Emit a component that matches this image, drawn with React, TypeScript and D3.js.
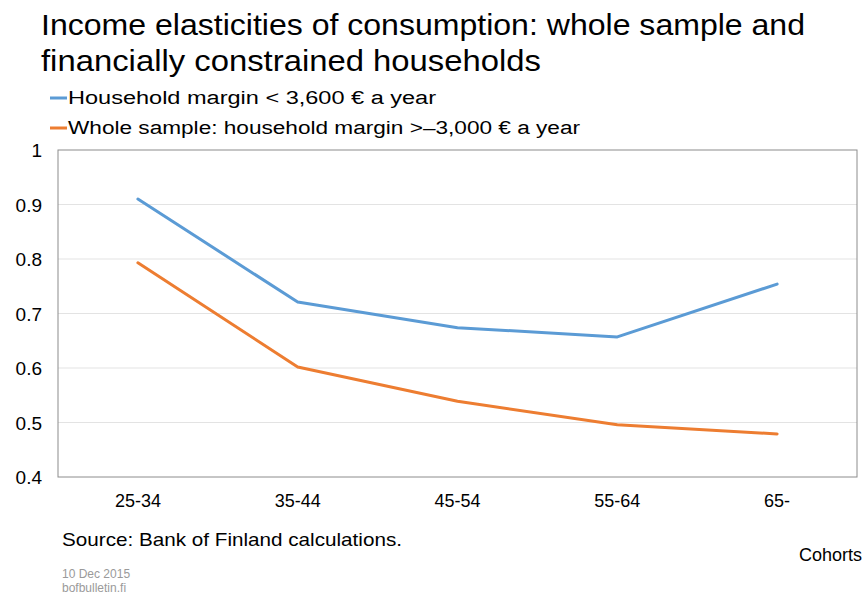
import { useEffect, useRef } from 'react';
import * as d3 from 'd3';

const cohorts = ['25-34', '35-44', '45-54', '55-64', '65-'];
const constrained = [0.91, 0.721, 0.674, 0.657, 0.754];
const wholeSample = [0.793, 0.602, 0.539, 0.496, 0.479];
const yTicks = [0.4, 0.5, 0.6, 0.7, 0.8, 0.9, 1];

const seriesNames = [
  'Household margin < 3,600 € a year',
  'Whole sample: household margin >–3,000 € a year',
];
const seriesColors = ['#5B9BD5', '#ED7D31'];

const App = () => {
  const svgRef = useRef<SVGSVGElement>(null);
  const width = 865;
  const height = 596;

  useEffect(() => {
    if (!svgRef.current) return;
    const svg = d3.select(svgRef.current);
    svg.selectAll('*').remove();

    const font = '"Liberation Sans", Arial, sans-serif';
    const plot = { left: 58, right: 857, top: 150, bottom: 477 };

    const x = d3.scaleBand()
      .domain(cohorts)
      .range([plot.left, plot.right]);

    const y = d3.scaleLinear()
      .domain([0.4, 1])
      .range([plot.bottom, plot.top]);

    // Title
    const title = ['Income elasticities of consumption: whole sample and', 'financially constrained households'];
    const titleWidths = [764, 500];
    title.forEach((t, i) => {
      svg.append('text')
        .attr('x', 41)
        .attr('y', 35 + i * 36)
        .attr('textLength', titleWidths[i])
        .attr('lengthAdjust', 'spacingAndGlyphs')
        .style('font-family', font)
        .style('font-size', '30px')
        .style('fill', '#000')
        .text(t);
    });

    // Legend
    const legendWidths = [368, 512];
    seriesNames.forEach((name, i) => {
      const ly = 98 + i * 30;
      svg.append('line')
        .attr('x1', 50).attr('x2', 67)
        .attr('y1', ly).attr('y2', ly)
        .attr('stroke', seriesColors[i])
        .attr('stroke-width', 3);
      svg.append('text')
        .attr('x', 68)
        .attr('y', ly + 6)
        .attr('textLength', legendWidths[i])
        .attr('lengthAdjust', 'spacingAndGlyphs')
        .style('font-family', font)
        .style('font-size', '18px')
        .style('fill', '#000')
        .text(name);
    });

    // Gridlines
    svg.append('g')
      .selectAll('line')
      .data(yTicks.filter(t => t > 0.4 && t < 1))
      .join('line')
      .attr('x1', plot.left).attr('x2', plot.right)
      .attr('y1', d => y(d)).attr('y2', d => y(d))
      .attr('stroke', '#e3e3e3')
      .attr('stroke-width', 1);

    // Plot border
    svg.append('rect')
      .attr('x', plot.left)
      .attr('y', plot.top)
      .attr('width', plot.right - plot.left)
      .attr('height', plot.bottom - plot.top)
      .attr('fill', 'none')
      .attr('stroke', '#8c8c8c')
      .attr('stroke-width', 1);

    // Y axis labels
    svg.append('g')
      .selectAll('text')
      .data(yTicks)
      .join('text')
      .attr('x', 42)
      .attr('y', d => y(d) + 7)
      .attr('text-anchor', 'end')
      .style('font-family', font)
      .style('font-size', '19px')
      .style('fill', '#000')
      .text(d => (d === 1 ? '1' : d3.format('.1f')(d)));

    // X axis labels
    svg.append('g')
      .selectAll('text')
      .data(cohorts)
      .join('text')
      .attr('x', d => (x(d) || 0) + x.bandwidth() / 2)
      .attr('y', 507)
      .attr('text-anchor', 'middle')
      .style('font-family', font)
      .style('font-size', '18px')
      .style('fill', '#000')
      .text(d => d);

    svg.append('text')
      .attr('x', 862)
      .attr('y', 561)
      .attr('text-anchor', 'end')
      .style('font-family', font)
      .style('font-size', '18px')
      .style('fill', '#000')
      .text('Cohorts');

    // Lines
    const line = d3.line<number>()
      .x((_, i) => (x(cohorts[i]) || 0) + x.bandwidth() / 2)
      .y(d => y(d));

    [constrained, wholeSample].forEach((vals, i) => {
      svg.append('path')
        .datum(vals)
        .attr('fill', 'none')
        .attr('stroke', seriesColors[i])
        .attr('stroke-width', 3)
        .attr('stroke-linecap', 'round')
        .attr('stroke-linejoin', 'round')
        .attr('d', line);
    });

    // Source and footer
    svg.append('text')
      .attr('x', 62)
      .attr('y', 546)
      .attr('textLength', 340)
      .attr('lengthAdjust', 'spacingAndGlyphs')
      .style('font-family', font)
      .style('font-size', '19px')
      .style('fill', '#000')
      .text('Source: Bank of Finland calculations.');

    ['10 Dec 2015', 'bofbulletin.fi'].forEach((t, i) => {
      svg.append('text')
        .attr('x', 62)
        .attr('y', 578 + i * 14)
        .style('font-family', font)
        .style('font-size', '12px')
        .style('fill', '#9a9a9a')
        .text(t);
    });
  }, []);

  return (
    <svg
      ref={svgRef}
      width={width}
      height={height}
      style={{ position: 'absolute', left: 0, top: 0, background: '#fff' }}
    />
  );
};

export default App;
